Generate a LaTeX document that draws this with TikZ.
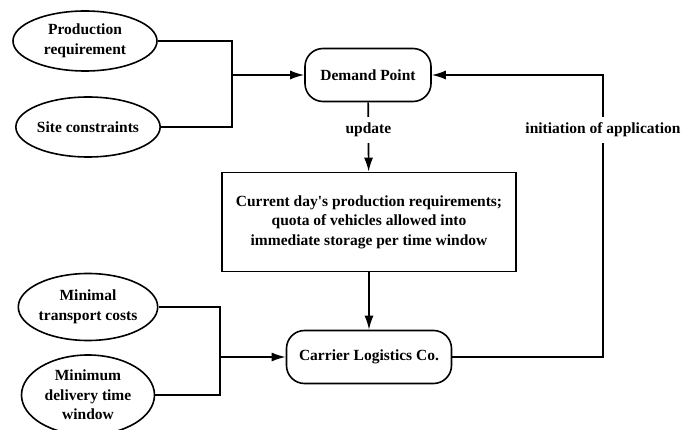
\documentclass[tikz,border=0pt]{standalone}
\usepackage{fontspec}
\setmainfont{Liberation Serif}
\usepackage{tikz}
\usetikzlibrary{arrows.meta}
\usetikzlibrary{shapes.geometric}
\newcommand{\boxfont}{\fontsize{15.5}{19.5}\selectfont\bfseries}
\tikzstyle{goal} = [draw, ellipse,
	line width=1.6pt,
	inner sep=0pt,
	align=center,
	font=\boxfont]
\tikzstyle{agent} = [draw, rectangle,
	rounded corners=18pt,
	line width=1.6pt,
	minimum height=53pt,
	align=center,
	font=\boxfont]
\tikzstyle{block} = [draw, rectangle,
	line width=1.6pt,
	minimum width=294pt,
	minimum height=99pt,
	align=center,
	font=\boxfont]
\tikzstyle{tag} = [fill=white, inner xsep=2pt, inner ysep=6pt, font=\boxfont]
\tikzstyle{link} = [line width=1.6pt]
\tikzstyle{arrow} = [-{Latex[length=14pt, width=9pt]}, line width=1.6pt]

\begin{document}
\begin{tikzpicture}[x=1pt, y=-1pt]
	\useasboundingbox (0,0) rectangle (681,430);
	% demand side
	\node (prod) [goal, minimum width=144pt, minimum height=60pt] at (85,41) {Production\\requirement};
	\node (site) [goal, minimum width=133pt, minimum height=60pt] at (88,127) {Site constraints};
	\node (dp) [agent, minimum width=126pt] at (368,75) {Demand Point};
	
	\node (quota) [block] at (369,222) {Current day\textquotesingle s production requirements;\\quota of vehicles allowed into\\immediate storage per time window};
	
	% carrier side
	\node (cost) [goal, minimum width=131pt, minimum height=67pt] at (88,307) {Minimal\\transport costs};
	\node (win) [goal, minimum width=133pt, minimum height=80pt] at (88,395) {Minimum\\delivery time\\window};
	\node (clc) [agent, minimum width=165pt] at (369,357) {Carrier Logistics Co.};
	
	\coordinate (j1) at (232,75);
	\coordinate (j2) at (220,357);
	\coordinate (fb) at (603,75);
	
	\draw [link] (prod.east) -| (j1) |- (site.east);
	\draw [arrow] (j1) -- (dp);
	\draw [link] (cost.east) -| (j2) |- (win.east);
	\draw [arrow] (j2) -- (clc);
	
	\draw [arrow] (dp) -- node [tag, pos=0.4] (upd) {update} (quota);
	\draw [arrow] (quota) -- (clc);
	\draw [arrow] (clc.east) -| (fb) -- (dp.east);
	\node (init) [tag] at (603,130) {initiation of application};
\end{tikzpicture}
\end{document}
